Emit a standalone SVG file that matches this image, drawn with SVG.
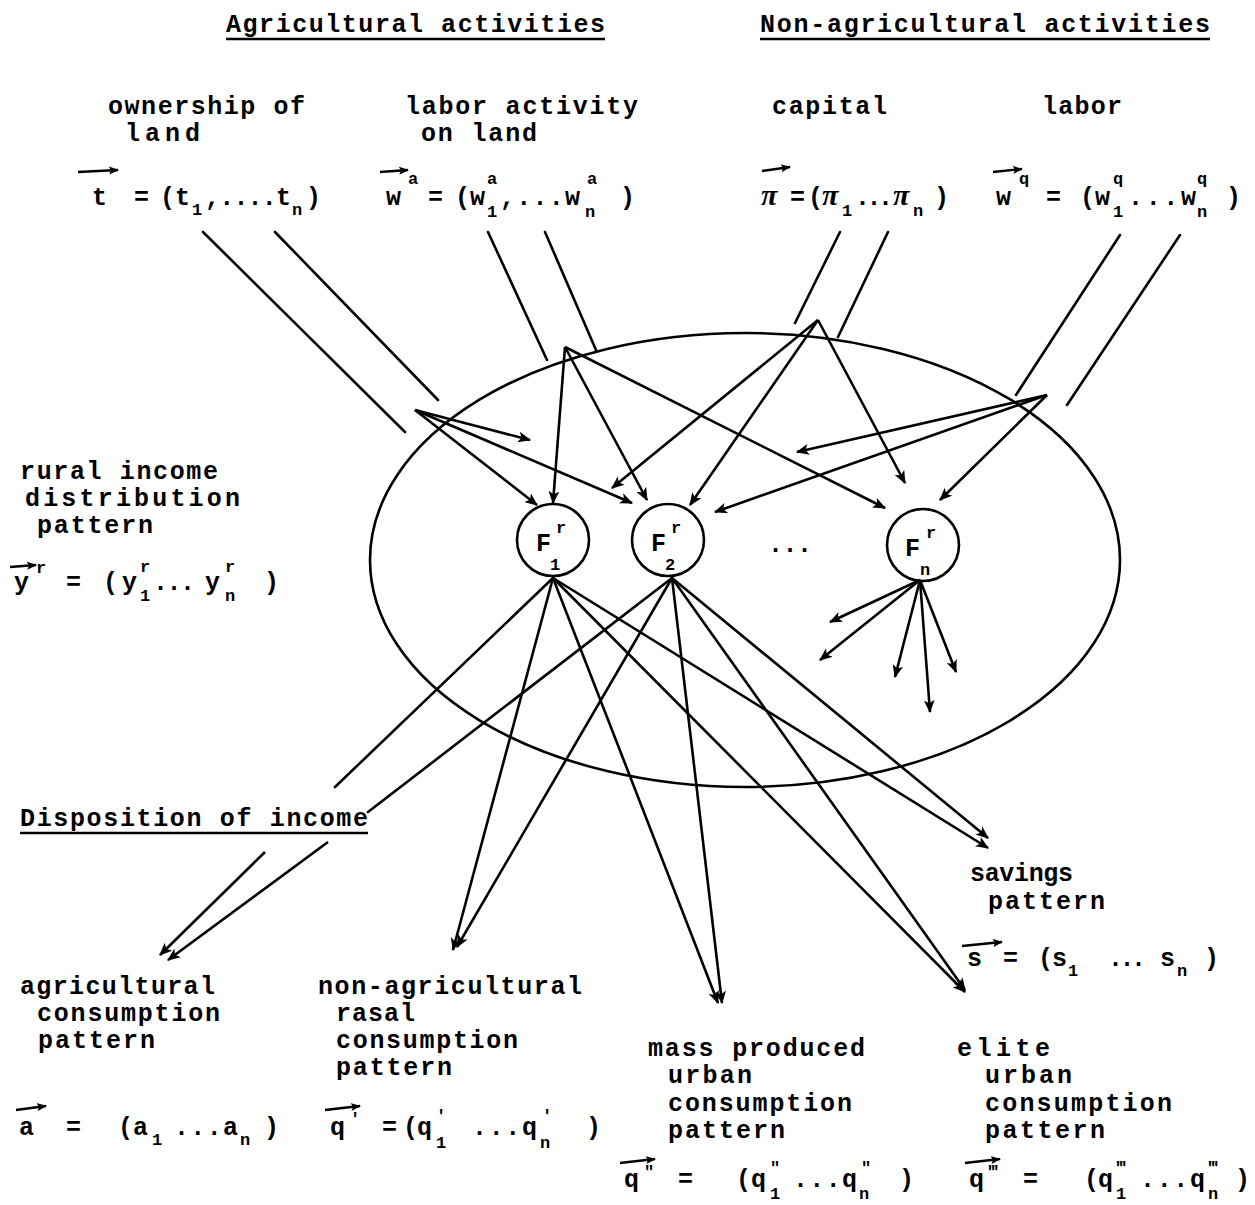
<svg xmlns="http://www.w3.org/2000/svg" width="1255" height="1205" viewBox="0 0 1255 1205">
<defs>
<style>
.t{font-family:"Liberation Mono","DejaVu Sans Mono",monospace;font-weight:bold;font-size:25px;fill:#000}
.s{font-size:17px}
.g{font-family:"Liberation Serif","DejaVu Serif",serif;font-style:italic;font-weight:bold;font-size:30px}
.ln{stroke:#000;stroke-width:2.6;fill:none;stroke-linecap:round}
.ar{stroke:#000;stroke-width:2.6;fill:none;marker-end:url(#ah)}
.va{stroke:#000;stroke-width:2.4;fill:none;marker-end:url(#vh)}
.ul{stroke:#000;stroke-width:2.4}
</style>
<marker id="ah" viewBox="0 0 12 10" refX="11" refY="5" markerWidth="13" markerHeight="11" markerUnits="userSpaceOnUse" orient="auto">
<path d="M0,0 L12,5 L0,10 L3,5 Z" fill="#000"/>
</marker>
<marker id="vh" viewBox="0 0 10 8" refX="9" refY="4" markerWidth="10" markerHeight="9" markerUnits="userSpaceOnUse" orient="auto">
<path d="M0,0 L10,4 L0,8 L2,4 Z" fill="#000"/>
</marker>
</defs>
<rect width="1255" height="1205" fill="#fff"/>

<g id="headers" class="t">
<text x="226" y="32" textLength="379" lengthAdjust="spacing">Agricultural activities</text>
<line class="ul" x1="226" y1="39" x2="605" y2="39"/>
<text x="760" y="32" textLength="450" lengthAdjust="spacing">Non-agricultural activities</text>
<line class="ul" x1="760" y1="39" x2="1210" y2="39"/>
</g>

<g id="input-land" class="t">
<text x="108" y="114" textLength="197" lengthAdjust="spacing">ownership of</text>
<text x="125" y="141" textLength="75" lengthAdjust="spacing">land</text>
<path class="va" d="M78,172 L118,170"/>
<text x="92" y="205">t</text>
<text x="134" y="205">=</text>
<text x="160" y="205">(t</text>
<text x="192" y="215" class="s">1</text>
<text x="205" y="205" textLength="86" lengthAdjust="spacing">,....t</text>
<text x="292" y="215" class="s">n</text>
<text x="306" y="205">)</text>
</g>

<g id="input-labor-land" class="t">
<text x="405" y="114" textLength="233" lengthAdjust="spacing">labor activity</text>
<text x="421" y="141" textLength="116" lengthAdjust="spacing">on land</text>
<path class="va" d="M380,172 L408,170"/>
<text x="386" y="205">w</text>
<text x="408" y="184" class="s">a</text>
<text x="428" y="205">=</text>
<text x="455" y="205">(w</text>
<text x="487" y="184" class="s">a</text>
<text x="487" y="217" class="s">1</text>
<text x="500" y="205" textLength="80" lengthAdjust="spacing">,...w</text>
<text x="587" y="184" class="s">a</text>
<text x="585" y="217" class="s">n</text>
<text x="620" y="205">)</text>
</g>

<g id="input-capital" class="t">
<text x="772" y="114" textLength="115" lengthAdjust="spacing">capital</text>
<path class="va" d="M762,171 L790,167"/>
<text x="761" y="205" class="g">π</text>
<text x="790" y="205">=</text>
<text x="808" y="205">(</text>
<text x="822" y="205" class="g">π</text>
<text x="842" y="216" class="s">1</text>
<text x="855" y="205" textLength="38" lengthAdjust="spacing">...</text>
<text x="893" y="205" class="g">π</text>
<text x="913" y="216" class="s">n</text>
<text x="934" y="205">)</text>
</g>

<g id="input-labor" class="t">
<text x="1042" y="114" textLength="80" lengthAdjust="spacing">labor</text>
<path class="va" d="M993,172 L1022,169"/>
<text x="996" y="205">w</text>
<text x="1019" y="184" class="s">q</text>
<text x="1046" y="205">=</text>
<text x="1080" y="205">(w</text>
<text x="1113" y="184" class="s">q</text>
<text x="1113" y="217" class="s">1</text>
<text x="1128" y="205" textLength="68" lengthAdjust="spacing">...w</text>
<text x="1197" y="184" class="s">q</text>
<text x="1197" y="217" class="s">n</text>
<text x="1226" y="205">)</text>
</g>

<g id="rural-income" class="t">
<text x="20" y="479" textLength="198" lengthAdjust="spacing">rural income</text>
<text x="25" y="506" textLength="215" lengthAdjust="spacing">distribution</text>
<text x="37" y="533" textLength="116" lengthAdjust="spacing">pattern</text>
<path class="va" d="M10,567 L36,565"/>
<text x="14" y="590">y</text>
<text x="36" y="573" class="s">r</text>
<text x="66" y="590">=</text>
<text x="103" y="590">(</text>
<text x="122" y="590">y</text>
<text x="140" y="572" class="s">r</text>
<text x="140" y="601" class="s">1</text>
<text x="153" y="590" textLength="42" lengthAdjust="spacing">...</text>
<text x="205" y="590">y</text>
<text x="225" y="572" class="s">r</text>
<text x="225" y="601" class="s">n</text>
<text x="264" y="590">)</text>
</g>

<g id="region">
<ellipse cx="745" cy="560" rx="375" ry="227" class="ln"/>
</g>

<g id="node-F1" class="t">
<circle cx="553" cy="540" r="36" class="ln"/>
<text x="536" y="551">F</text>
<text x="556" y="533" class="s">r</text>
<text x="550" y="570" class="s">1</text>
</g>
<g id="node-F2" class="t">
<circle cx="668" cy="540" r="36" class="ln"/>
<text x="651" y="551">F</text>
<text x="671" y="533" class="s">r</text>
<text x="665" y="570" class="s">2</text>
</g>
<g id="ellipsis" class="t"><text x="768" y="552" textLength="44" lengthAdjust="spacing">...</text></g>
<g id="node-Fn" class="t">
<circle cx="923" cy="545" r="36" class="ln"/>
<text x="905" y="556">F</text>
<text x="926" y="538" class="s">r</text>
<text x="920" y="575" class="s">n</text>
</g>

<g id="disposition" class="t">
<text x="20" y="826" textLength="348" lengthAdjust="spacing">Disposition of income</text>
<line class="ul" x1="20" y1="833" x2="368" y2="833"/>
</g>

<g id="savings" class="t">
<text x="970" y="881" textLength="103" lengthAdjust="spacing">savings</text>
<text x="988" y="909" textLength="117" lengthAdjust="spacing">pattern</text>
<path class="va" d="M962,946 L1002,942"/>
<text x="967" y="966">s</text>
<text x="1003" y="966">=</text>
<text x="1038" y="966">(</text>
<text x="1052" y="966">s</text>
<text x="1068" y="976" class="s">1</text>
<text x="1108" y="966" textLength="38" lengthAdjust="spacing">...</text>
<text x="1160" y="966">s</text>
<text x="1177" y="976" class="s">n</text>
<text x="1204" y="966">)</text>
</g>

<g id="agri-consumption" class="t">
<text x="20" y="994" textLength="195" lengthAdjust="spacing">agricultural</text>
<text x="37" y="1021" textLength="183" lengthAdjust="spacing">consumption</text>
<text x="38" y="1048" textLength="117" lengthAdjust="spacing">pattern</text>
<path class="va" d="M16,1110 L46,1106"/>
<text x="19" y="1135">a</text>
<text x="66" y="1135">=</text>
<text x="118" y="1135">(</text>
<text x="133" y="1135">a</text>
<text x="152" y="1145" class="s">1</text>
<text x="174" y="1135" textLength="64" lengthAdjust="spacing">...a</text>
<text x="240" y="1145" class="s">n</text>
<text x="264" y="1135">)</text>
</g>

<g id="nonagri-consumption" class="t">
<text x="318" y="994" textLength="264" lengthAdjust="spacing">non-agricultural</text>
<text x="336" y="1021" textLength="79" lengthAdjust="spacing">rasal</text>
<text x="336" y="1048" textLength="182" lengthAdjust="spacing">consumption</text>
<text x="336" y="1075" textLength="116" lengthAdjust="spacing">pattern</text>
<path class="va" d="M325,1110 L360,1106"/>
<text x="330" y="1135">q</text>
<text x="350" y="1124" class="s">′</text>
<text x="382" y="1135">=</text>
<text x="403" y="1135">(</text>
<text x="417" y="1135">q</text>
<text x="436" y="1121" class="s">′</text>
<text x="436" y="1148" class="s">1</text>
<text x="472" y="1135" textLength="65" lengthAdjust="spacing">...q</text>
<text x="542" y="1121" class="s">′</text>
<text x="540" y="1148" class="s">n</text>
<text x="586" y="1135">)</text>
</g>

<g id="mass-consumption" class="t">
<text x="648" y="1056" textLength="217" lengthAdjust="spacing">mass produced</text>
<text x="668" y="1083" textLength="84" lengthAdjust="spacing">urban</text>
<text x="668" y="1111" textLength="184" lengthAdjust="spacing">consumption</text>
<text x="668" y="1138" textLength="117" lengthAdjust="spacing">pattern</text>
<path class="va" d="M620,1163 L655,1159"/>
<text x="624" y="1187">q</text>
<text x="644" y="1177" class="s">″</text>
<text x="678" y="1187">=</text>
<text x="736" y="1187">(</text>
<text x="751" y="1187">q</text>
<text x="770" y="1173" class="s">″</text>
<text x="770" y="1199" class="s">1</text>
<text x="793" y="1187" textLength="64" lengthAdjust="spacing">...q</text>
<text x="861" y="1173" class="s">″</text>
<text x="859" y="1199" class="s">n</text>
<text x="899" y="1187">)</text>
</g>

<g id="elite-consumption" class="t">
<text x="957" y="1056" textLength="93" lengthAdjust="spacing">elite</text>
<text x="985" y="1083" textLength="87" lengthAdjust="spacing">urban</text>
<text x="985" y="1111" textLength="187" lengthAdjust="spacing">consumption</text>
<text x="985" y="1138" textLength="120" lengthAdjust="spacing">pattern</text>
<path class="va" d="M965,1163 L1000,1159"/>
<text x="969" y="1187">q</text>
<text x="988" y="1177" class="s">‴</text>
<text x="1023" y="1187">=</text>
<text x="1084" y="1187">(</text>
<text x="1098" y="1187">q</text>
<text x="1116" y="1173" class="s">‴</text>
<text x="1116" y="1199" class="s">1</text>
<text x="1140" y="1187" textLength="65" lengthAdjust="spacing">...q</text>
<text x="1208" y="1173" class="s">‴</text>
<text x="1208" y="1199" class="s">n</text>
<text x="1235" y="1187">)</text>
</g>

<g id="connectors">
<line class="ln" x1="203" y1="232" x2="405" y2="432"/>
<line class="ln" x1="275" y1="232" x2="438" y2="400"/>
<line class="ar" x1="415" y1="410" x2="530" y2="440"/>
<line class="ar" x1="415" y1="410" x2="537" y2="505"/>
<line class="ar" x1="415" y1="410" x2="632" y2="503"/>
<line class="ln" x1="488" y1="232" x2="547" y2="360"/>
<line class="ln" x1="545" y1="232" x2="596" y2="350"/>
<line class="ar" x1="565" y1="347" x2="553" y2="503"/>
<line class="ar" x1="565" y1="347" x2="647" y2="500"/>
<line class="ar" x1="565" y1="347" x2="885" y2="508"/>
<line class="ln" x1="840" y1="232" x2="795" y2="323"/>
<line class="ln" x1="888" y1="232" x2="838" y2="337"/>
<line class="ar" x1="818" y1="320" x2="612" y2="488"/>
<line class="ar" x1="818" y1="320" x2="690" y2="505"/>
<line class="ar" x1="818" y1="320" x2="905" y2="483"/>
<line class="ln" x1="1120" y1="235" x2="1016" y2="395"/>
<line class="ln" x1="1180" y1="235" x2="1067" y2="405"/>
<line class="ar" x1="1047" y1="395" x2="797" y2="452"/>
<line class="ar" x1="1047" y1="395" x2="715" y2="512"/>
<line class="ar" x1="1047" y1="395" x2="940" y2="500"/>
<line class="ln" x1="553" y1="578" x2="335" y2="787"/>
<line class="ar" x1="553" y1="578" x2="453" y2="950"/>
<line class="ar" x1="553" y1="578" x2="718" y2="1003"/>
<line class="ar" x1="553" y1="578" x2="965" y2="992"/>
<line class="ar" x1="553" y1="578" x2="988" y2="848"/>
<line class="ln" x1="672" y1="578" x2="368" y2="812"/>
<line class="ar" x1="672" y1="578" x2="457" y2="947"/>
<line class="ar" x1="672" y1="578" x2="722" y2="1003"/>
<line class="ar" x1="672" y1="578" x2="965" y2="990"/>
<line class="ar" x1="672" y1="578" x2="988" y2="838"/>
<line class="ar" x1="265" y1="852" x2="160" y2="955"/>
<line class="ar" x1="328" y1="842" x2="168" y2="960"/>
<line class="ar" x1="920" y1="580" x2="830" y2="622"/>
<line class="ar" x1="920" y1="580" x2="820" y2="660"/>
<line class="ar" x1="920" y1="580" x2="895" y2="677"/>
<line class="ar" x1="920" y1="580" x2="930" y2="712"/>
<line class="ar" x1="920" y1="580" x2="956" y2="672"/>
</g>
</svg>
